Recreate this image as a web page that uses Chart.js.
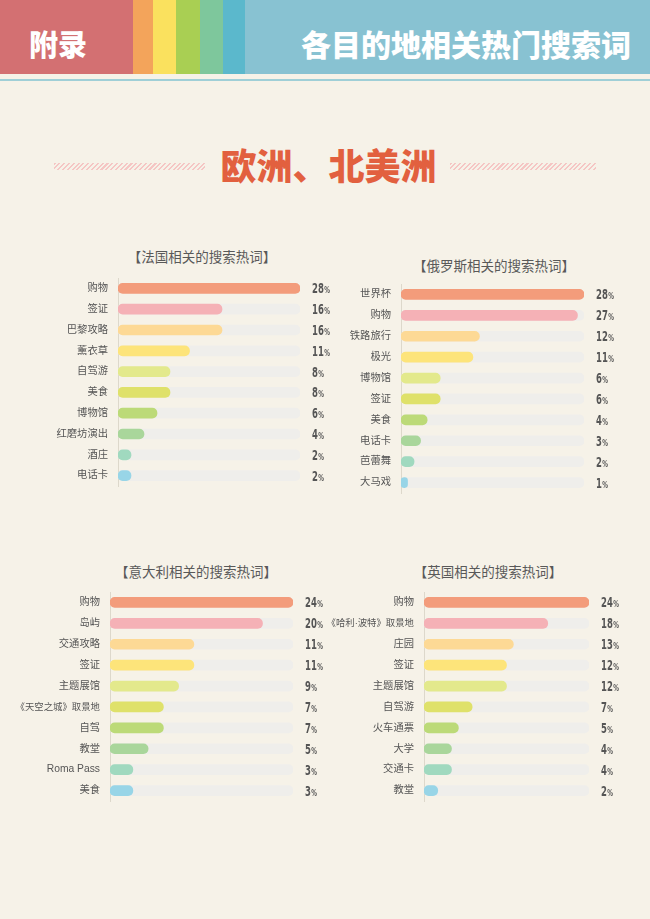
<!DOCTYPE html>
<html lang="zh">
<head>
<meta charset="utf-8">
<title>各目的地相关热门搜索词</title>
<script src="https://cdn.jsdelivr.net/npm/chart.js@4"></script>
<style>
  html, body { margin: 0; padding: 0; }
  body {
    width: 650px; height: 919px; position: relative; overflow: hidden;
    background: #f6f2e8;
    font-family: "Noto Sans CJK SC", "Liberation Sans", sans-serif;
  }
  .blk { position: absolute; top: 0; height: 74px; }
  .hline { position: absolute; left: 0; top: 79px; width: 650px; height: 2px; background: #9fcfd7; }
  .htext { position: absolute; color: #fff; font-weight: 900; line-height: 1; white-space: nowrap; }
  .hatch {
    position: absolute; top: 163px; height: 7px;
    background: repeating-linear-gradient(135deg, #f5c6c4 0 1.5px, transparent 1.5px 3.4px);
  }
  .bigtitle {
    position: absolute; left: 0; width: 657px; top: 145px; text-align: center;
    font-size: 36px; line-height: 38px; font-weight: 900; color: #e2603f;
  }
  .ptitle {
    position: absolute; font-size: 13.5px; line-height: 14px; color: #595959;
    white-space: nowrap; transform: translateX(-50%);
  }
  canvas { position: absolute; }
</style>
</head>
<body>
  <div class="blk" style="left:0;width:133px;background:#d37072"></div>
  <div class="blk" style="left:133px;width:20px;background:#f3a45b"></div>
  <div class="blk" style="left:153px;width:23px;background:#fae15e"></div>
  <div class="blk" style="left:176px;width:24px;background:#a9cf53"></div>
  <div class="blk" style="left:200px;width:23px;background:#7ec79c"></div>
  <div class="blk" style="left:223px;width:22px;background:#5bb8cc"></div>
  <div class="blk" style="left:245px;width:405px;background:#88c2d2"></div>
  <div class="hline"></div>
  <div class="htext" style="left:29px;top:29px;font-size:29px">附录</div>
  <div class="htext" style="right:19px;top:28px;font-size:30px">各目的地相关热门搜索词</div>

  <div class="hatch" style="left:54px;width:151px"></div>
  <div class="hatch" style="left:450px;width:146px"></div>
  <div class="bigtitle">欧洲、北美洲</div>

  <div class="ptitle" style="left:202px;top:249px">【法国相关的搜索热词】</div>
  <div class="ptitle" style="left:494px;top:258px">【俄罗斯相关的搜索热词】</div>
  <div class="ptitle" style="left:196px;top:564px">【意大利相关的搜索热词】</div>
  <div class="ptitle" style="left:488px;top:564px">【英国相关的搜索热词】</div>

  <canvas id="franceChart" width="332" height="224" style="left:8px;top:270px"></canvas>
  <canvas id="russiaChart" width="333" height="225" style="left:291px;top:276px"></canvas>
  <canvas id="italyChart" width="333" height="225" style="left:0px;top:584px"></canvas>
  <canvas id="ukChart" width="315" height="225" style="left:314px;top:584px"></canvas>

<script>
// 法国
const franceLabels = ["购物", "签证", "巴黎攻略", "薰衣草", "自驾游", "美食", "博物馆", "红磨坊演出", "酒庄", "电话卡"];
const franceValues = [28, 16, 16, 11, 8, 8, 6, 4, 2, 2];

// 俄罗斯
const russiaLabels = ["世界杯", "购物", "铁路旅行", "极光", "博物馆", "签证", "美食", "电话卡", "芭蕾舞", "大马戏"];
const russiaValues = [28, 27, 12, 11, 6, 6, 4, 3, 2, 1];

// 意大利
const italyLabels = ["购物", "岛屿", "交通攻略", "签证", "主题展馆", "《天空之城》取景地", "自驾", "教堂", "Roma Pass", "美食"];
const italyValues = [24, 20, 11, 11, 9, 7, 7, 5, 3, 3];

// 英国
const ukLabels = ["购物", "《哈利·波特》取景地", "庄园", "签证", "主题展馆", "自驾游", "火车通票", "大学", "交通卡", "教堂"];
const ukValues = [24, 18, 13, 12, 12, 7, 5, 4, 4, 2];

const barColors = ["#f39c7b", "#f5b1b6", "#fdd995", "#fde47a", "#e3e98c",
                   "#dfe16a", "#bcda78", "#a9d69b", "#a0d9bf", "#98d5e7"];
const trackColor = "#efeeeb";

Chart.defaults.font.family = '"Liberation Sans", "Noto Sans CJK SC", sans-serif';
Chart.defaults.animation = false;

// 右侧百分比文字（窄体数字 + 小号 %）
const pctLabels = {
  id: "pctLabels",
  afterDatasetsDraw(chart) {
    const { ctx, chartArea, scales } = chart;
    const vals = chart.data.datasets[0].data;
    ctx.save();
    ctx.fillStyle = "#555";
    ctx.textAlign = "left";
    ctx.textBaseline = "alphabetic";
    vals.forEach((v, i) => {
      const yy = scales.y.getPixelForValue(i) + 5;
      const x0 = chartArea.right + 12;
      ctx.save();
      ctx.translate(x0, yy);
      ctx.scale(0.7, 1);
      ctx.font = 'bold 13.5px "DejaVu Sans Condensed", "Liberation Sans Narrow", sans-serif';
      ctx.fillText(String(v), 0, 0);
      const w = ctx.measureText(String(v)).width;
      ctx.font = 'bold 9px "DejaVu Sans Condensed", "Liberation Sans Narrow", sans-serif';
      ctx.fillText("%", w + 0.5, 0);
      ctx.restore();
    });
    ctx.restore();
  }
};

function makeChart(id, labels, values) {
  const max = Math.max(...values);
  return new Chart(document.getElementById(id), {
    type: "bar",
    data: {
      labels: labels,
      datasets: [
        {
          data: values,
          backgroundColor: barColors,
          barThickness: 10,
          borderRadius: 5,
          borderSkipped: false,
          grouped: false,
        },
        {
          data: values.map(() => max),
          backgroundColor: trackColor,
          barThickness: 10,
          borderRadius: 5,
          borderSkipped: false,
          grouped: false,
        }
      ]
    },
    options: {
      indexAxis: "y",
      responsive: false,
      layout: { padding: { top: 8, bottom: 8, right: 40, left: 0 } },
      plugins: { legend: { display: false }, tooltip: { enabled: false } },
      scales: {
        x: { display: false, min: 0, max: max },
        y: {
          grid: { display: false, drawTicks: false },
          border: { display: true, color: "#ddd8cb", width: 1, dash: [1, 2] },
          ticks: {
            color: "#555",
            // 书名号标签在原图里排得更紧
            font: c => ({ size: /《/.test(labels[c.index] || "") ? 9.4 : 10.3 }),
            padding: 10,
            autoSkip: false
          },
          afterFit: s => {
            s.width = 110;
            s.paddingTop = 0;
            s.paddingBottom = 0;
          }
        }
      }
    },
    plugins: [pctLabels]
  });
}

makeChart("franceChart", franceLabels, franceValues);
makeChart("russiaChart", russiaLabels, russiaValues);
makeChart("italyChart", italyLabels, italyValues);
makeChart("ukChart", ukLabels, ukValues);
</script>
</body>
</html>
